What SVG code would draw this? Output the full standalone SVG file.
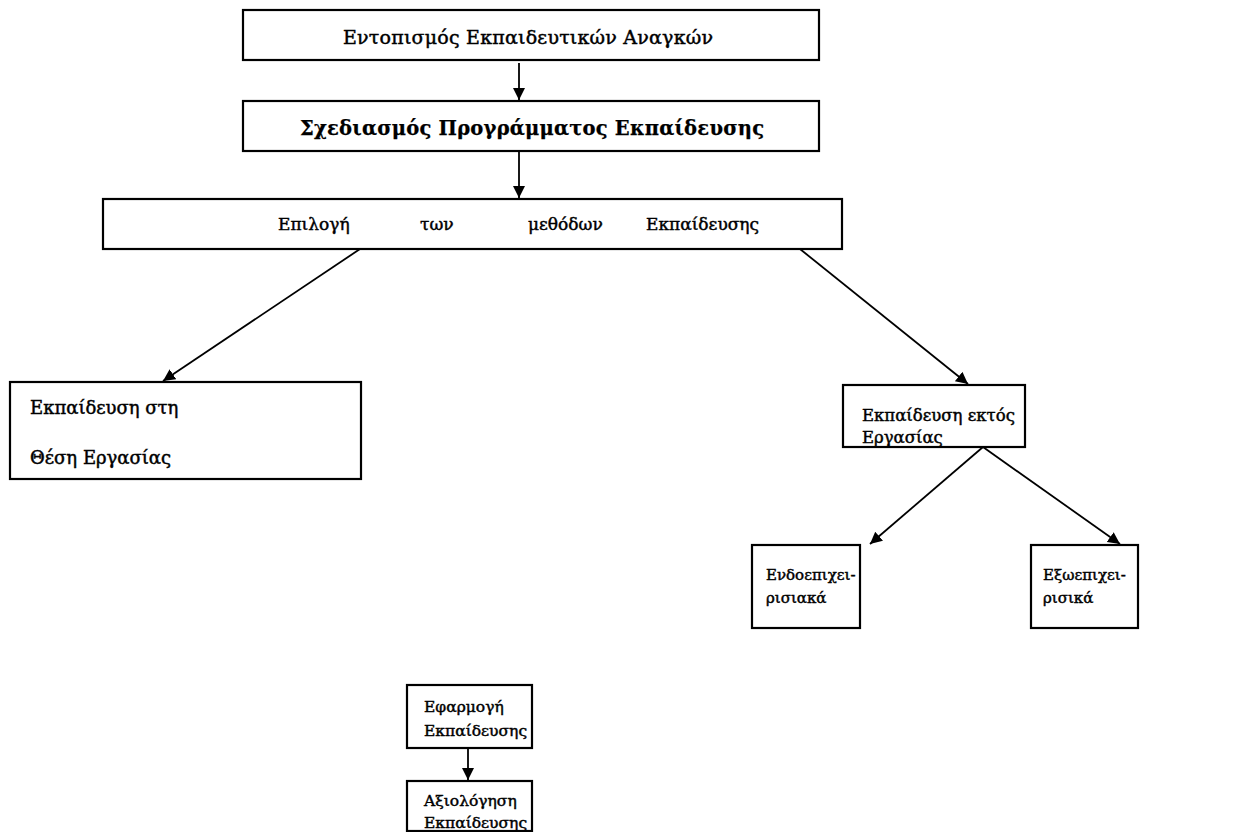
<svg xmlns="http://www.w3.org/2000/svg" width="1239" height="832" viewBox="0 0 1239 832">
<style>
.box{fill:#fff;stroke:#000;stroke-width:2.2}
.t{font-family:"DejaVu Serif","Liberation Serif",serif;font-size:17px;fill:#000;stroke:#000;stroke-width:0.45}
.b{font-weight:bold;stroke-width:0.25}
.s{font-size:15px}
.s2{font-size:15.5px}
.m{font-size:16.5px}
.c{stroke:#000;stroke-width:1.8;fill:none}
</style>
<defs>
<marker id="ah" markerWidth="14" markerHeight="14" refX="12" refY="6" orient="auto" markerUnits="userSpaceOnUse">
<path d="M0,0 L12,6 L0,12 z" fill="#000"/>
</marker>
</defs>
<rect width="1239" height="832" fill="#fff"/>
<g id="connectors">
<line class="c" x1="519" y1="63" x2="519" y2="100" marker-end="url(#ah)"/>
<line class="c" x1="519" y1="151" x2="519" y2="198" marker-end="url(#ah)"/>
<line class="c" x1="360" y1="249" x2="163" y2="381" marker-end="url(#ah)"/>
<line class="c" x1="800" y1="249" x2="968" y2="384" marker-end="url(#ah)"/>
<line class="c" x1="983" y1="447" x2="870" y2="544" marker-end="url(#ah)"/>
<line class="c" x1="983" y1="447" x2="1120" y2="544" marker-end="url(#ah)"/>
<line class="c" x1="468" y1="748" x2="468" y2="780" marker-end="url(#ah)"/>
</g>
<g id="n1"><rect class="box" x="243" y="10" width="576" height="50"/><text class="t" x="343" y="44" textLength="370" style="font-size:19px">Εντοπισμός Εκπαιδευτικών Αναγκών</text></g>
<g id="n2"><rect class="box" x="243" y="101" width="576" height="50"/><text class="t b" x="300" y="135" textLength="464" style="font-size:19.5px">Σχεδιασμός Προγράμματος Εκπαίδευσης</text></g>
<g id="n3"><rect class="box" x="103" y="199" width="739" height="50"/><text class="t" y="230"><tspan x="278">Επιλογή</tspan><tspan x="420">των</tspan><tspan x="528">μεθόδων</tspan><tspan x="646">Εκπαίδευσης</tspan></text></g>
<g id="n4"><rect class="box" x="10" y="382" width="351" height="97"/><text class="t" x="30" y="414" style="font-size:18px">Εκπαίδευση στη</text><text class="t" x="30" y="464" style="font-size:18px">Θέση Εργασίας</text></g>
<g id="n5"><rect class="box" x="843" y="385" width="182" height="62"/><text class="t m" x="862" y="421">Εκπαίδευση εκτός</text><text class="t m" x="862" y="443">Εργασίας</text></g>
<g id="n6"><rect class="box" x="752" y="545" width="108" height="83"/><text class="t s" x="766" y="580">Ενδοεπιχει-</text><text class="t s" x="766" y="603">ρισιακά</text></g>
<g id="n7"><rect class="box" x="1031" y="545" width="107" height="83"/><text class="t s" x="1043" y="580">Εξωεπιχει-</text><text class="t s" x="1043" y="603">ρισικά</text></g>
<g id="n8"><rect class="box" x="407" y="685" width="125" height="63"/><text class="t s2" x="424" y="712">Εφαρμογή</text><text class="t s2" x="424" y="736">Εκπαίδευσης</text></g>
<g id="n9"><rect class="box" x="407" y="781" width="125" height="50"/><text class="t s2" x="424" y="806">Αξιολόγηση</text><text class="t s2" x="424" y="828">Εκπαίδευσης</text></g>
</svg>
